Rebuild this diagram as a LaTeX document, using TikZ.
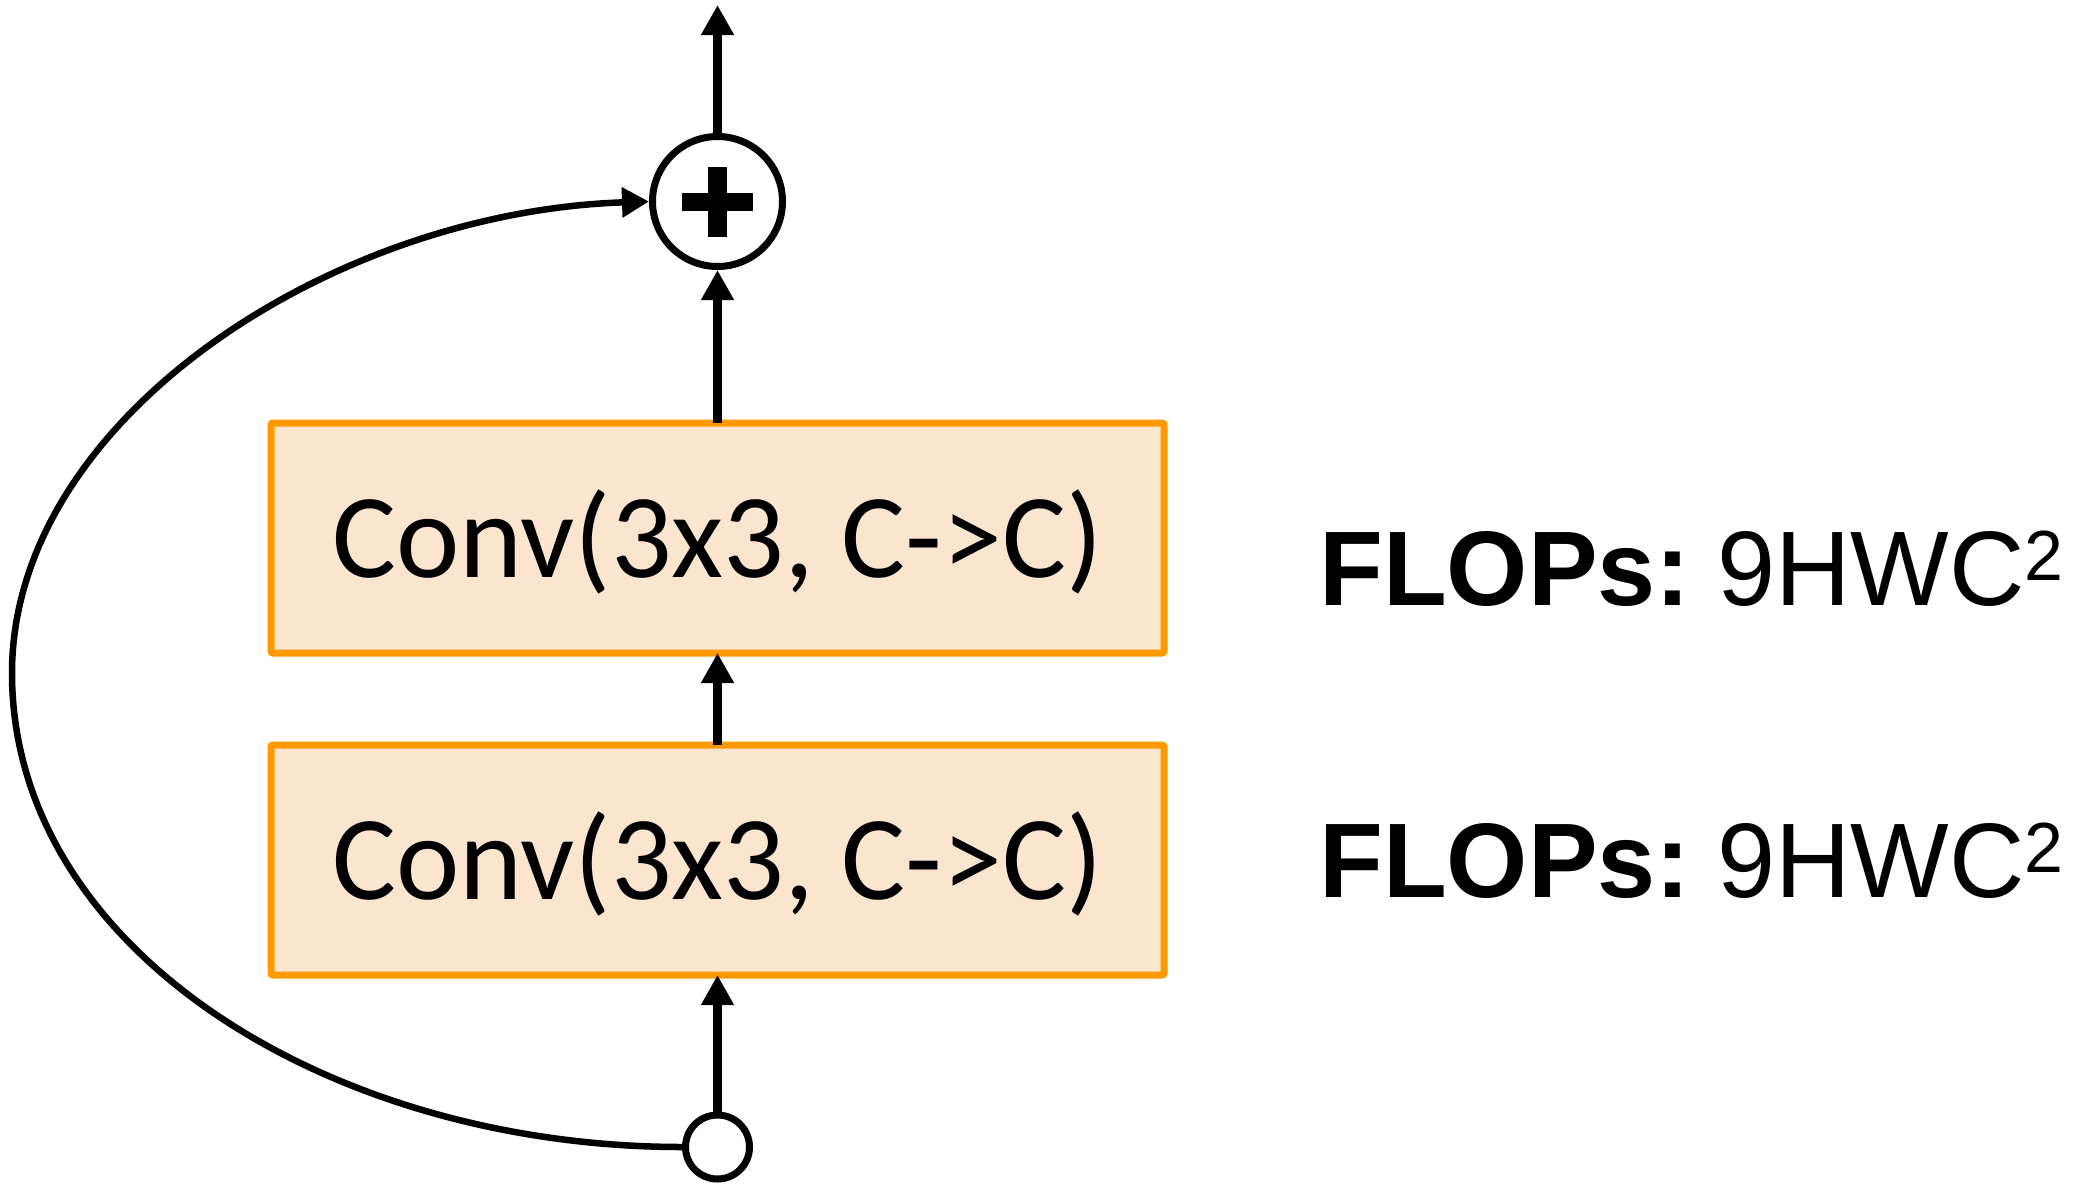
\documentclass[tikz,border=0pt]{standalone}
\usepackage{fontspec}
\setmainfont{Carlito}
\newfontfamily\arialfont{Liberation Sans}
\usetikzlibrary{arrows.meta}
\definecolor{boxfill}{RGB}{251,229,206}
\definecolor{boxline}{RGB}{255,153,0}
\newcommand{\flopsline}{\scalebox{0.985}[1]{\textbf{FLOPs:}\hspace{27pt}9HWC{\fontsize{71}{80}\selectfont\raisebox{25pt}{2}}}}
\begin{document}
\begin{tikzpicture}[x=1pt,y=-1pt,
  convbox/.style={draw=boxline, fill=boxfill, line width=7pt, rounded corners=2pt,
    minimum width=893pt, minimum height=230pt, inner sep=0pt, outer sep=0pt},
  convtext/.style={font=\fontsize{120}{130}\selectfont, anchor=base, inner sep=0pt},
  flopstext/.style={font=\arialfont\fontsize{106}{120}\selectfont, anchor=base west, inner sep=0pt},
  joint/.style={draw, circle, line width=7pt, fill=white, inner sep=0pt},
  flow/.style={line width=8.5pt, -{Triangle[length=30pt,width=31pt]}},
  skip/.style={line width=6.5pt, -{Triangle[length=27pt,width=29pt]}}
]
\useasboundingbox (0,0) rectangle (2075,1186);

\node[convbox] (c1) at (717.5,538) {};
\node[convbox] (c2) at (717.5,860) {};
\node[convtext] (t1) at (717.5,577) {Conv(3x3, C->C)};
\node[convtext] (t2) at (717.5,899) {Conv(3x3, C->C)};

\node[joint, minimum size=130pt] (plus) at (717.5,201.5) {};
\fill (682,193) rectangle (753,211);
\fill (708,167) rectangle (727,237);

\node[joint, minimum size=64pt] (inp) at (717.5,1147) {};

\coordinate (out) at (717.5,5);

\draw[flow] (plus.north) -- (out);
\draw[flow] (c1.north) -- (plus.south);
\draw[flow] (c2.north) -- (c1.south);
\draw[flow] (inp.north) -- (c2.south);

\draw[skip] (inp.west) .. controls (330,1147) and (12,950) .. (12,673)
  .. controls (12,420) and (330,212) .. (plus.west);

\node[flopstext] (f1) at (1319,605) {\flopsline};
\node[flopstext] (f2) at (1319,897) {\flopsline};
\end{tikzpicture}
\end{document}
